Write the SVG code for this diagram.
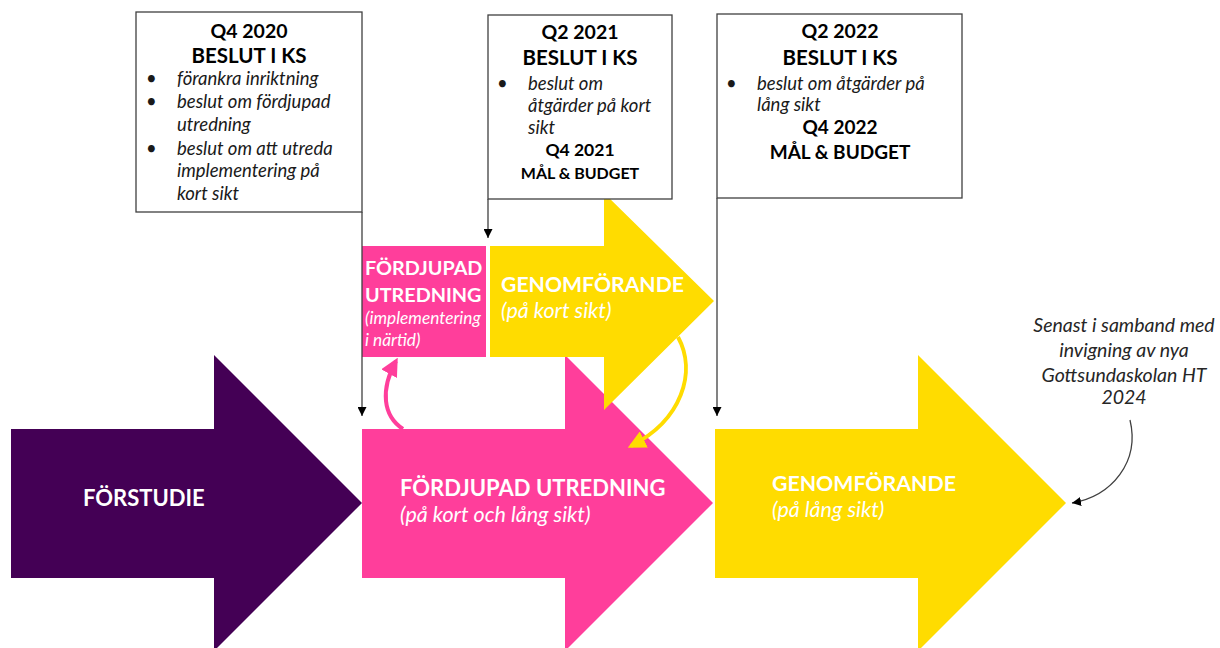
<svg xmlns="http://www.w3.org/2000/svg" width="1220" height="648" viewBox="0 0 1220 648">
<defs>
<style>
.box{fill:#fff;stroke:#404040;stroke-width:1.3}
.conn{stroke:#404040;stroke-width:1.3;fill:none}
.h{font-family:Lato,"Open Sans",sans-serif;font-weight:bold;fill:#000;text-anchor:middle}
.b{font-family:Lato,"Open Sans",sans-serif;font-style:italic;fill:#1a1a1a;font-size:18.5px}
.w{font-family:Lato,"Open Sans",sans-serif;font-weight:bold;fill:#fff}
.wi{font-family:Lato,"Open Sans",sans-serif;font-style:italic;fill:#fff}
.note{font-family:Lato,"Open Sans",sans-serif;font-style:italic;fill:#262626;font-size:19.5px;text-anchor:middle}
</style>
<marker id="ah" viewBox="0 0 10 10" refX="10" refY="5" markerWidth="9" markerHeight="9" markerUnits="userSpaceOnUse" orient="auto">
<path d="M0,0 L10,5 L0,10 z" fill="#000"/>
</marker>
<marker id="ahy" viewBox="0 0 10 10" refX="8" refY="5" markerWidth="4.5" markerHeight="4.5" orient="auto">
<path d="M0,0 L10,5 L0,10 z" fill="#ffdc00"/>
</marker>
<marker id="ahp" viewBox="0 0 10 10" refX="8" refY="5" markerWidth="4.5" markerHeight="4.5" orient="auto">
<path d="M0,0 L10,5 L0,10 z" fill="#ff3e9b"/>
</marker>
</defs>

<g id="forstudie">
<polygon points="11,429 214,429 214,355 362,503 214,651 214,578 11,578" fill="#440055"/>
<text class="w" x="83" y="506" font-size="22">FÖRSTUDIE</text>
</g>

<g id="fordjupad-utredning">
<polygon points="362,429 565,429 565,355 713,503 565,651 565,578 362,578" fill="#ff3e9b"/>
<text class="w" x="400" y="496" font-size="22">FÖRDJUPAD UTREDNING</text>
<text class="wi" x="400" y="522" font-size="21.5">(på kort och lång sikt)</text>
</g>

<g id="genomforande-lang">
<polygon points="715,429 918,429 918,355 1066,503 918,651 918,578 715,578" fill="#ffdc00"/>
<text class="w" x="772" y="491" font-size="21.3">GENOMFÖRANDE</text>
<text class="wi" x="772" y="517" font-size="21.5">(på lång sikt)</text>
</g>

<g id="fordjupad-narttid">
<rect x="362" y="246" width="124" height="111" fill="#ff3e9b"/>
<text class="w" x="365" y="275" font-size="19.8">FÖRDJUPAD</text>
<text class="w" x="365" y="302" font-size="19.8">UTREDNING</text>
<text class="wi" x="365" y="324" font-size="17.3">(implementering</text>
<text class="wi" x="365" y="346" font-size="17.3">i närtid)</text>
</g>

<g id="genomforande-kort">
<polygon points="490,246 604,246 604,193 714,301 604,410 604,357 490,357" fill="#ffdc00"/>
<text class="w" x="501" y="292" font-size="21.2">GENOMFÖRANDE</text>
<text class="wi" x="501" y="318" font-size="21.5">(på kort sikt)</text>
</g>

<g id="q4-2020">
<rect class="box" x="136" y="12" width="226" height="200"/>
<text class="h" x="249" y="38" font-size="19.5">Q4 2020</text>
<text class="h" x="249" y="63" font-size="20.5">BESLUT I KS</text>
<text class="b" x="146" y="85">•</text>
<text class="b" x="177" y="85">förankra inriktning</text>
<text class="b" x="146" y="108">•</text>
<text class="b" x="177" y="108">beslut om fördjupad</text>
<text class="b" x="177" y="131">utredning</text>
<text class="b" x="146" y="155">•</text>
<text class="b" x="177" y="155">beslut om att utreda</text>
<text class="b" x="177" y="177">implementering på</text>
<text class="b" x="177" y="200">kort sikt</text>
</g>

<g id="q2-2021">
<rect class="box" x="488" y="15" width="184" height="184"/>
<text class="h" x="580" y="39" font-size="19.5">Q2 2021</text>
<text class="h" x="580" y="65" font-size="20.5">BESLUT I KS</text>
<text class="b" x="497" y="90">•</text>
<text class="b" x="528" y="90">beslut om</text>
<text class="b" x="528" y="112">åtgärder på kort</text>
<text class="b" x="528" y="134">sikt</text>
<text class="h" x="580" y="156" font-size="17.5">Q4 2021</text>
<text class="h" x="580" y="179" font-size="16">MÅL &amp; BUDGET</text>
</g>

<g id="q2-2022">
<rect class="box" x="717" y="14" width="245" height="184"/>
<text class="h" x="840" y="38" font-size="19.5">Q2 2022</text>
<text class="h" x="840" y="65" font-size="20.5">BESLUT I KS</text>
<text class="b" x="726" y="90">•</text>
<text class="b" x="757" y="90">beslut om åtgärder på</text>
<text class="b" x="757" y="111">lång sikt</text>
<text class="h" x="840" y="134" font-size="19">Q4 2022</text>
<text class="h" x="840" y="159" font-size="19">MÅL &amp; BUDGET</text>
</g>

<g id="note">
<text class="note" x="1124" y="332">Senast i samband med</text>
<text class="note" x="1124" y="357">invigning av nya</text>
<text class="note" x="1124" y="382">Gottsundaskolan HT</text>
<text class="note" x="1124" y="404">2024</text>
</g>

<g id="connectors">
<line class="conn" x1="362" y1="212" x2="362" y2="416" marker-end="url(#ah)"/>
<line class="conn" x1="488" y1="199" x2="488" y2="238" marker-end="url(#ah)"/>
<line class="conn" x1="717" y1="198" x2="717" y2="416" marker-end="url(#ah)"/>
<path class="conn" d="M1130,420 C1140,462 1112,496 1072,503" marker-end="url(#ah)"/>
<path d="M678,337 C697,372 682,420 631,446" fill="none" stroke="#ffdc00" stroke-width="4" marker-end="url(#ahy)"/>
<path d="M403,429 C383,416 380,390 396,361" fill="none" stroke="#ff3e9b" stroke-width="4" marker-end="url(#ahp)"/>
</g>
</svg>
